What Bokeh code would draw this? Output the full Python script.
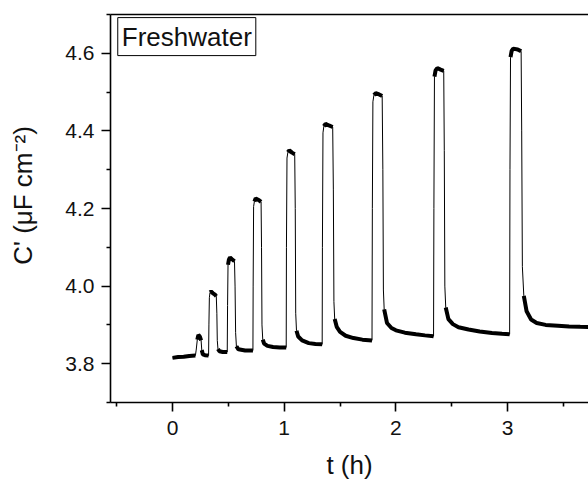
import numpy as np
from bokeh.plotting import figure
from bokeh.models import LinearAxis, FixedTicker, PrintfTickFormatter, Label, Range1d
from bokeh.embed import file_html
from bokeh.resources import INLINE

# ---- data (time in h, capacitance in uF cm^-2) ----
t_h = [
    0.000, 0.050, 0.100, 0.150, 0.205,
    0.212, 0.222, 0.232, 0.245, 0.256, 0.262, 0.272, 0.290, 0.323,
    0.326, 0.330, 0.336, 0.345, 0.360, 0.380, 0.392, 0.397, 0.401, 0.407, 0.420, 0.450, 0.490,
    0.493, 0.497, 0.505, 0.515, 0.530, 0.555, 0.560, 0.565, 0.572, 0.590, 0.650, 0.720,
    0.722, 0.726, 0.733, 0.745, 0.770, 0.793, 0.797, 0.801, 0.808, 0.820, 0.850, 0.900, 0.960, 1.018,
    1.020, 1.025, 1.033, 1.045, 1.070, 1.094, 1.099, 1.103, 1.110, 1.125, 1.160, 1.220, 1.280, 1.340,
    1.342, 1.347, 1.355, 1.370, 1.400, 1.434, 1.440, 1.445, 1.452, 1.470, 1.500, 1.550, 1.620, 1.700, 1.786,
    1.789, 1.794, 1.803, 1.820, 1.850, 1.877, 1.883, 1.888, 1.895, 1.920, 1.960, 2.000, 2.080, 2.180, 2.260, 2.337,
    2.340, 2.345, 2.355, 2.370, 2.400, 2.428, 2.433, 2.438, 2.446, 2.470, 2.510, 2.560, 2.650, 2.750, 2.860, 2.950, 3.018,
    3.021, 3.026, 3.036, 3.050, 3.090, 3.121, 3.126, 3.132, 3.145, 3.170, 3.210, 3.260, 3.340, 3.450, 3.550, 3.650, 3.850,
]
c_uF = [
    3.815, 3.817, 3.818, 3.820, 3.821,
    3.835, 3.862, 3.874, 3.870, 3.860, 3.835, 3.824, 3.822, 3.821,
    3.900, 3.970, 3.984, 3.986, 3.982, 3.978, 3.974, 3.930, 3.860, 3.838, 3.832, 3.830, 3.830,
    3.950, 4.055, 4.068, 4.074, 4.070, 4.064, 4.000, 3.880, 3.845, 3.837, 3.834, 3.834,
    4.000, 4.205, 4.218, 4.226, 4.222, 4.217, 4.100, 3.900, 3.862, 3.852, 3.846, 3.843, 3.842, 3.842,
    4.100, 4.330, 4.345, 4.350, 4.344, 4.340, 4.200, 3.930, 3.885, 3.870, 3.860, 3.853, 3.851, 3.850,
    4.100, 4.395, 4.412, 4.418, 4.414, 4.410, 4.250, 3.960, 3.915, 3.895, 3.882, 3.872, 3.866, 3.862, 3.860,
    4.200, 4.475, 4.492, 4.497, 4.494, 4.490, 4.300, 3.990, 3.940, 3.905, 3.892, 3.886, 3.880, 3.876, 3.873, 3.871,
    4.200, 4.540, 4.556, 4.562, 4.558, 4.555, 4.350, 4.000, 3.945, 3.915, 3.902, 3.894, 3.888, 3.883, 3.879, 3.877, 3.876,
    4.300, 4.590, 4.606, 4.612, 4.610, 4.605, 4.400, 4.050, 3.975, 3.935, 3.914, 3.905, 3.900, 3.898, 3.896, 3.895, 3.894,
]

x_major = [0, 1, 2, 3]
x_minor = [-0.5, 0.5, 1.5, 2.5, 3.5]
y_major = [3.8, 4.0, 4.2, 4.4, 4.6]
y_minor = [3.7, 3.9, 4.1, 4.3, 4.5, 4.7]
panel_text = "Freshwater"
x_title = "t (h)"
y_title = "C' (\u03bcF cm\u207b\u00b2)"

FONT = "Liberation Sans"
X0, X1 = -0.555, 3.724
Y0, Y1 = 3.70, 4.70
FRAME_L, FRAME_R, FRAME_T, FRAME_B = 110, 588, 14, 402
SX = (FRAME_R - FRAME_L) / (X1 - X0)   # px per hour
SY = (FRAME_B - FRAME_T) / (Y1 - Y0)   # px per uF cm^-2

p = figure(width=588, height=483, output_backend="svg", toolbar_location=None,
           x_range=Range1d(X0, X1), y_range=Range1d(Y0, Y1),
           min_border_left=FRAME_L, min_border_right=0, min_border_top=FRAME_T,
           min_border_bottom=483 - FRAME_B)
p.grid.visible = False
p.outline_line_color = None
p.background_fill_color = "white"
p.border_fill_color = "white"

# thin trace (all vertices)
p.line(t_h, c_uF, line_color="black", line_width=1.0)

# thicker overlay on the quiet (noisy) parts of the trace
t = np.array(t_h)
c = np.array(c_uF)
dx = np.abs(np.diff(t)) * SX
dy = np.abs(np.diff(c)) * SY
xs, ys = [], []
cur_x, cur_y = [t[0]], [c[0]]
for i in range(len(dx)):
    if dy[i] > 6 * dx[i]:
        if len(cur_x) > 1:
            xs.append(cur_x); ys.append(cur_y)
        cur_x, cur_y = [t[i + 1]], [c[i + 1]]
    else:
        cur_x.append(t[i + 1]); cur_y.append(c[i + 1])
if len(cur_x) > 1:
    xs.append(cur_x); ys.append(cur_y)
p.multi_line(xs, ys, line_color="black", line_width=4.0)

def style(ax, ticks, minor, fmt):
    ax.ticker = FixedTicker(ticks=ticks, minor_ticks=minor)
    ax.formatter = PrintfTickFormatter(format=fmt)
    ax.axis_line_width = 1.6
    ax.axis_line_color = "black"
    ax.major_tick_line_width = 1.6
    ax.minor_tick_line_width = 1.6
    ax.major_tick_line_color = "black"
    ax.minor_tick_line_color = "black"
    ax.major_tick_out = 9
    ax.major_tick_in = 0
    ax.minor_tick_out = 4
    ax.minor_tick_in = 0
    ax.major_label_text_font = FONT
    ax.major_label_text_font_size = "21px"
    ax.major_label_text_color = "#111111"
    ax.axis_label_text_font = FONT
    ax.axis_label_text_font_size = "26px"
    ax.axis_label_text_font_style = "normal"
    ax.axis_label_text_color = "#111111"

style(p.xaxis[0], x_major, x_minor, "%d")
style(p.yaxis[0], y_major, y_minor, "%.1f")
p.xaxis[0].major_label_standoff = 9
p.yaxis[0].major_label_standoff = 7
p.xaxis[0].axis_label = x_title
p.xaxis[0].axis_label_standoff = 12
# two en-spaces before the title shift the visible text upward along the axis
p.yaxis[0].axis_label = "\u2002\u2002" + y_title
p.yaxis[0].axis_label_standoff = 24

top = LinearAxis(ticker=FixedTicker(ticks=[]), axis_line_width=1.6,
                 major_tick_line_color=None, minor_tick_line_color=None,
                 major_label_text_font_size="0px", major_label_standoff=0)
p.add_layout(top, "above")

lab = Label(x=-0.49, y=4.692, text=panel_text, text_align="left", text_baseline="top",
            text_font=FONT, text_font_size="26px", text_color="#111111",
            border_line_color="black", border_line_width=1,
            background_fill_color="white", padding=4)
p.add_layout(lab)

open("out.html", "w").write(file_html(p, INLINE))
